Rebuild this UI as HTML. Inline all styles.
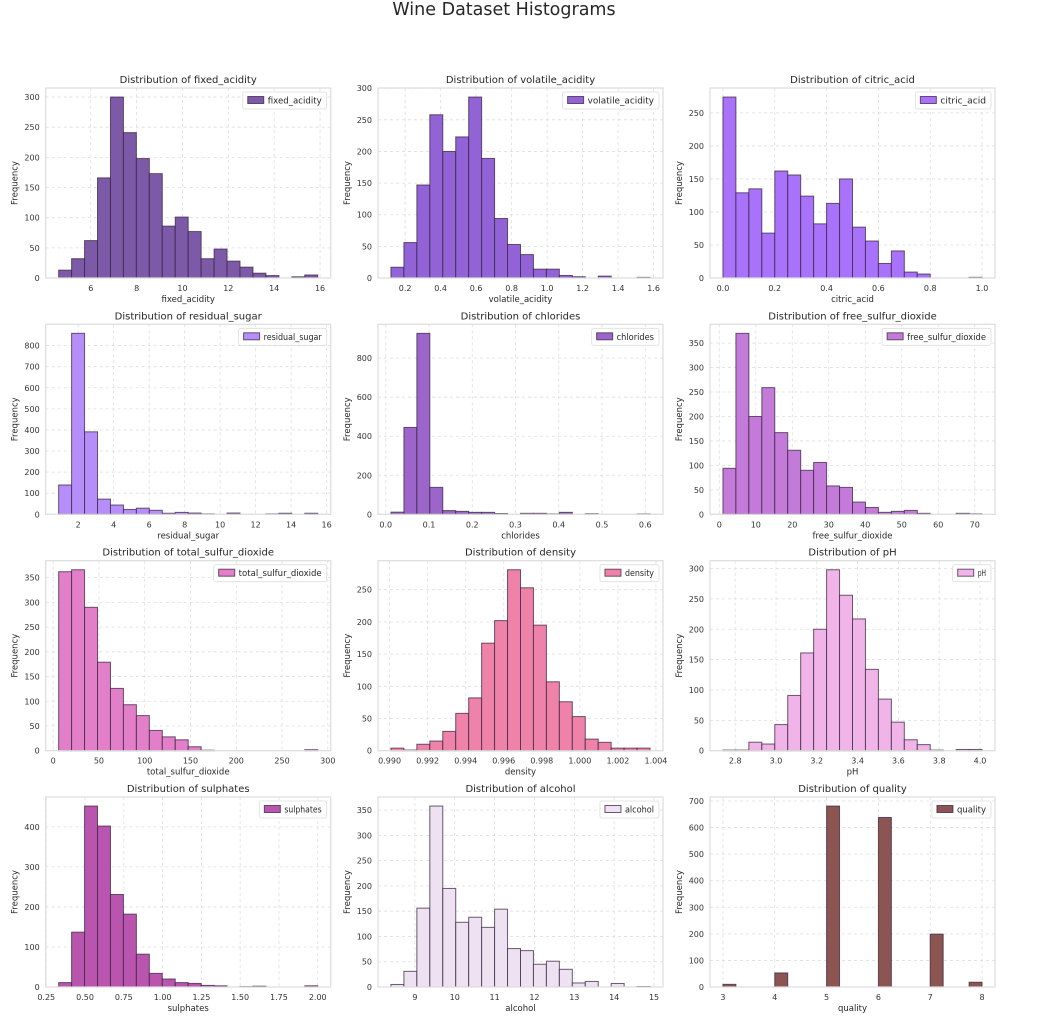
<!DOCTYPE html>
<html><head><meta charset="utf-8"><style>
html,body{margin:0;padding:0;background:#fff;}
svg{display:block;font-family:"DejaVu Sans","Liberation Sans",sans-serif;}
</style></head><body>
<svg id="fig" width="1045" height="1016" viewBox="0 0 1045 1016" xmlns="http://www.w3.org/2000/svg">
<rect width="1045" height="1016" fill="#fff"/>
<text x="504" y="15" text-anchor="middle" font-size="17.5" fill="#262626">Wine Dataset Histograms</text>
</svg>
<script>
const names = ["fixed_acidity","volatile_acidity","citric_acid","residual_sugar","chlorides","free_sulfur_dioxide","total_sulfur_dioxide","density","pH","sulphates","alcohol","quality"];
const mins = [4.6,0.12,0,0.9,0.012,1,6,0.99007,2.74,0.33,8.4,3];
const maxs = [15.9,1.58,1,15.5,0.611,72,289,1.00369,4.01,2.0,14.9,8];
const countsFixed = [13,32,62,166,300,241,198,173,86,101,77,32,48,28,18,8,4,0,2,5];
const countsVolatile = [17,56,147,258,200,223,286,189,94,53,37,14,14,4,2,0,3,0,0,1];
const countsCitric = [274,129,135,68,162,156,124,82,113,150,77,56,22,41,9,6,0,0,0,1];
const countsResidual = [139,858,391,72,44,23,29,19,5,9,6,2,0,6,0,0,2,5,0,5];
const countsChlorides = [11,445,927,138,19,15,10,10,4,0,5,5,2,10,0,3,0,0,0,2];
const countsFree = [94,370,200,259,167,131,90,106,58,55,25,14,4,6,8,2,0,0,2,1];
const countsTotal = [362,366,290,179,126,93,71,41,28,22,8,1,0,0,0,0,0,0,0,2];
const countsDensity = [4,1,10,15,30,58,82,167,202,281,253,195,107,76,53,18,13,4,4,4];
const countsPH = [1,1,14,11,43,91,161,200,298,256,217,134,85,47,18,10,1,0,2,2];
const countsSulphates = [11,137,452,402,231,182,82,34,20,11,9,4,3,0,1,2,0,0,0,3];
const countsAlcohol = [5,31,156,358,195,128,138,118,154,76,72,45,51,35,8,11,0,7,0,1];
const countsQuality = [10,0,0,0,53,0,0,0,681,0,0,0,638,0,0,0,199,0,0,18];
const xTicks = [[6,8,10,12,14,16],[0.2,0.4,0.6,0.8,1.0,1.2,1.4,1.6],[0,0.2,0.4,0.6,0.8,1.0],[2,4,6,8,10,12,14,16],[0,0.1,0.2,0.3,0.4,0.5,0.6],[0,10,20,30,40,50,60,70],[0,50,100,150,200,250,300],[0.990,0.992,0.994,0.996,0.998,1.000,1.002,1.004],[2.8,3.0,3.2,3.4,3.6,3.8,4.0],[0.25,0.5,0.75,1.0,1.25,1.5,1.75,2.0],[9,10,11,12,13,14,15],[3,4,5,6,7,8]];
const xDecimals = [0,1,1,0,1,0,0,3,1,2,0,0];
const yStep = [50,50,50,100,200,50,50,50,50,100,50,100];
const yTopTick = [300,300,250,800,800,350,350,250,300,400,350,700];
const colors = ["#7d5aa8","#9163d6","#a972fa","#b68efa","#9b65c9","#c47ad9","#e27fc8","#ef82a8","#f0b4e8","#b955ae","#ede1f2","#8c5551"];
const allCounts = [countsFixed,countsVolatile,countsCitric,countsResidual,countsChlorides,countsFree,countsTotal,countsDensity,countsPH,countsSulphates,countsAlcohol,countsQuality];

const svg = document.getElementById('fig');
const NS = "http://www.w3.org/2000/svg";
function mk(tag, attrs, parent){const e=document.createElementNS(NS,tag);for(const k in attrs)e.setAttribute(k,attrs[k]);(parent||svg).appendChild(e);return e;}
const colL=[45.7,378,710], rowT=[88,324.3,560.7,797], W=285, H=190;

names.forEach((name,i)=>{
  const L=colL[i%3], T=rowT[Math.floor(i/3)];
  const counts=allCounts[i], lo=mins[i], hi=maxs[i], n=counts.length, bw=(hi-lo)/n;
  const rng=hi-lo, x0=lo-0.05*rng, x1=hi+0.05*rng;
  const ymax=Math.max(...counts)*1.05;
  const sx=v=>L+(v-x0)/(x1-x0)*W, sy=v=>T+H-v/ymax*H;
  const g=mk('g',{});
  
  
  xTicks[i].forEach(t=>{
    const x=sx(t);
    const gl=mk('line',{x1:x,x2:x,y1:T,y2:T+H,stroke:'#dedede','stroke-width':0.8,'stroke-dasharray':'3,3'},g);
    
    
    const tl=mk('text',{x:x,y:T+H+13,'text-anchor':'middle','font-size':8,fill:'#333'},g);
    tl.textContent=t.toFixed(xDecimals[i]);
    
    
  });
  for(let v=0; v<=Math.min(ymax,yTopTick[i]); v+=yStep[i]){
    const y=sy(v);
    const gl=mk('line',{x1:L,x2:L+W,y1:y,y2:y,stroke:'#dedede','stroke-width':0.8,'stroke-dasharray':'3,3'},g);
    
    
    const tl=mk('text',{x:L-6,y:y+3,'text-anchor':'end','font-size':8,fill:'#333'},g);
    tl.textContent=v;
    
    
  }
  counts.forEach((c,k)=>{
    if(c<=0) return;
    const a=sx(lo+k*bw), b=sx(lo+(k+1)*bw);
    const r=mk('rect',{x:a,y:sy(c),width:b-a,height:sy(0)-sy(c),fill:colors[i],stroke:'#3a2540','stroke-opacity':0.75,'stroke-width':1},g);
    
    
  });
  const fr=mk('rect',{x:L,y:T,width:W,height:H,fill:'none',stroke:'#dcdcdc','stroke-width':1.2},g);
  
  
  const tt=mk('text',{x:L+W/2,y:T-5,'text-anchor':'middle','font-size':10,fill:'#262626'},g);
  tt.textContent='Distribution of '+name;
  
  
  const xl=mk('text',{x:L+W/2,y:T+H+24,'text-anchor':'middle','font-size':8.5,fill:'#262626'},g);
  xl.textContent=name;
  
  
  const yl=mk('text',{x:0,y:0,'text-anchor':'middle','font-size':8.5,fill:'#262626',transform:`translate(${L-28},${T+H/2}) rotate(-90)`},g);
  yl.textContent='Frequency';
  
  
  const lw=name.length*4.15+30;
  const lg=mk('g',{},g);
  
  
  mk('rect',{x:L+W-lw-4,y:T+4,width:lw,height:17,rx:2,fill:'#fff','fill-opacity':0.85,stroke:'#ddd','stroke-width':0.8},lg);
  const lp=mk('rect',{x:L+W-lw+1,y:T+8.5,width:16,height:7,fill:colors[i],stroke:'#3a2540','stroke-opacity':0.75,'stroke-width':1},lg);
  
  
  const lt=mk('text',{x:L+W-lw+21,y:T+15.5,'font-size':8.5,'textLength':name.length*4.15,'lengthAdjust':'spacingAndGlyphs',fill:'#262626'},lg);
  lt.textContent=name;
  
  
});
</script>
</body></html>
